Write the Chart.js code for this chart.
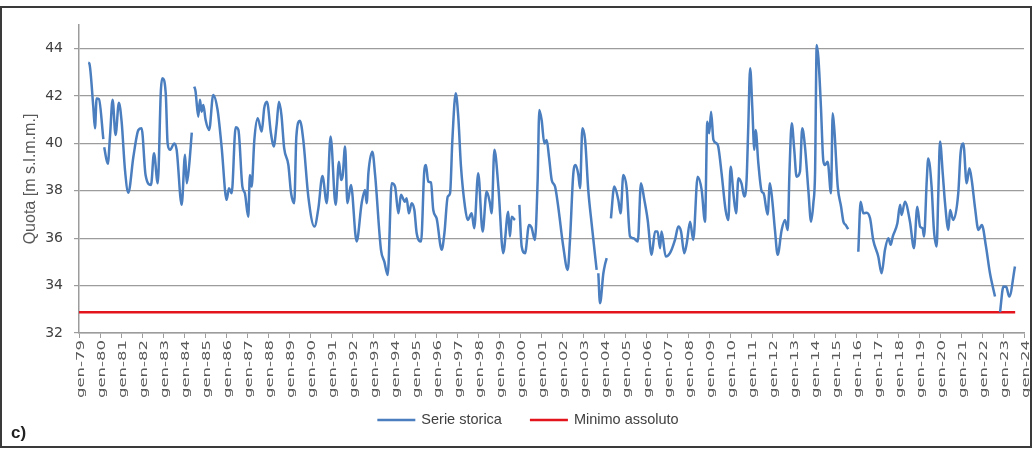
<!DOCTYPE html>
<html>
<head>
<meta charset="utf-8">
<title>Quota - serie storica</title>
<script src="https://cdn.jsdelivr.net/npm/chart.js@4.4.1/dist/chart.umd.min.js"></script>
<style>
  html, body { margin: 0; padding: 0; background: #fff; overflow: hidden; }
  #wrap { position: relative; width: 1035px; height: 449px; }
  #wrap canvas { position: absolute; left: 0; top: 0; }
  #frame { position: absolute; left: 0; top: 6px; width: 1028px; height: 438px; border: 2px solid #3a3a3a; pointer-events: none; }
</style>
</head>
<body>
<div id="wrap">
  <canvas id="quota" width="1035" height="449"></canvas>
  <div id="frame"></div>
</div>
<script>
// Serie storica della quota (m s.l.m.m.), tempo in anni decimali; null = dato mancante
const obsTime = [
  1979.44, 1979.49, 1979.68, 1979.76, 1979.84, 1979.95, 1980.16, 1980.18,
  1980.20, 1980.37, 1980.48, 1980.60, 1980.74, 1980.90, 1981.03, 1981.19,
  1981.35, 1981.59, 1981.83, 1981.98, 1982.17, 1982.43, 1982.57, 1982.75,
  1982.90, 1982.97, 1983.13, 1983.22, 1983.33, 1983.54, 1983.65, 1983.89,
  1984.05, 1984.13, 1984.24, 1984.37, 1984.43, 1984.49, 1984.55, 1984.68,
  1984.76, 1984.84, 1984.92, 1985.03, 1985.20, 1985.39, 1985.60, 1985.79,
  1986.03, 1986.14, 1986.27, 1986.46, 1986.59, 1986.78, 1986.90, 1987.06,
  1987.14, 1987.22, 1987.35, 1987.51, 1987.70, 1987.82, 1987.95, 1988.14,
  1988.27, 1988.41, 1988.52, 1988.64, 1988.77, 1988.97, 1989.10, 1989.25,
  1989.35, 1989.52, 1989.68, 1989.92, 1990.21, 1990.40, 1990.59, 1990.80,
  1990.98, 1991.22, 1991.38, 1991.48, 1991.56, 1991.67, 1991.78, 1991.95,
  1992.22, 1992.46, 1992.62, 1992.70, 1992.78, 1992.97, 1993.10, 1993.38,
  1993.54, 1993.70, 1993.89, 1994.05, 1994.21, 1994.33, 1994.52, 1994.60,
  1994.71, 1994.84, 1994.97, 1995.08, 1995.29, 1995.44, 1995.52, 1995.63,
  1995.76, 1995.87, 1996.03, 1996.27, 1996.40, 1996.56, 1996.67, 1996.78,
  1996.94, 1997.06, 1997.19, 1997.38, 1997.51, 1997.70, 1997.82, 1998.01,
  1998.22, 1998.41, 1998.57, 1998.65, 1998.78, 1998.97, 1999.20, 1999.44,
  1999.52, 1999.60, 1999.76, 1999.86, 1999.97, 2000.08, 2000.24, 2000.43,
  2000.55, 2000.71, 2000.84, 2000.92, 2001.03, 2001.16, 2001.27, 2001.38,
  2001.51, 2001.67, 2001.82, 2002.06, 2002.27, 2002.38, 2002.54, 2002.65,
  2002.78, 2002.86, 2002.97, 2003.10, 2003.25, 2003.41, 2003.65, 2003.69,
  2003.73, 2003.81, 2003.97, 2004.05, 2004.13, 2004.23, 2004.33, 2004.49,
  2004.68, 2004.79, 2004.92, 2005.08, 2005.24, 2005.40, 2005.61, 2005.76,
  2005.92, 2006.08, 2006.27, 2006.43, 2006.55, 2006.67, 2006.74, 2006.94,
  2007.14, 2007.38, 2007.54, 2007.67, 2007.82, 2007.94, 2008.10, 2008.25,
  2008.46, 2008.65, 2008.81, 2008.92, 2009.01, 2009.10, 2009.21, 2009.37,
  2009.44, 2009.60, 2009.79, 2009.92, 2010.03, 2010.16, 2010.29, 2010.40,
  2010.55, 2010.68, 2010.79, 2010.87, 2010.96, 2011.06, 2011.16, 2011.22,
  2011.35, 2011.51, 2011.60, 2011.79, 2011.90, 2012.01, 2012.14, 2012.27,
  2012.46, 2012.62, 2012.75, 2012.83, 2012.94, 2013.06, 2013.17, 2013.33,
  2013.44, 2013.57, 2013.73, 2013.86, 2013.97, 2014.05, 2014.13, 2014.21,
  2014.33, 2014.44, 2014.52, 2014.65, 2014.81, 2014.89, 2014.97, 2015.13,
  2015.29, 2015.40, 2015.51, 2015.63, 2015.85, 2016.11, 2016.22, 2016.35,
  2016.51, 2016.67, 2016.82, 2017.06, 2017.22, 2017.38, 2017.54, 2017.65,
  2017.75, 2017.97, 2018.10, 2018.17, 2018.33, 2018.57, 2018.76, 2018.92,
  2019.05, 2019.17, 2019.24, 2019.37, 2019.44, 2019.60, 2019.71, 2019.84,
  2019.92, 2020.00, 2020.13, 2020.24, 2020.40, 2020.48, 2020.63, 2020.87,
  2020.98, 2021.11, 2021.27, 2021.40, 2021.51, 2021.67, 2021.83, 2021.99,
  2022.19, 2022.38, 2022.62, 2022.74, 2022.86, 2023.02, 2023.15, 2023.30,
  2023.57
];
const obsLevel = [
  43.41, 43.38, 41.55, 40.64, 41.90, 41.87, 40.18, null,
  39.84, 39.14, 40.36, 41.84, 40.36, 41.72, 40.92, 38.88,
  37.92, 39.44, 40.57, 40.64, 38.67, 38.25, 39.59, 38.32,
  42.26, 42.75, 42.12, 40.00, 39.73, 40.00, 39.73, 37.41,
  39.52, 38.32, 39.02, 40.46, null, 42.40, 42.20, 41.13,
  41.84, 41.34, 41.62, 40.99, 40.57, 42.05, 41.41, 39.87,
  37.62, 38.11, 37.90, 40.68, 40.57, 38.18, 37.90, 36.91,
  38.67, 38.18, 40.15, 41.06, 40.50, 41.49, 41.76, 40.43,
  39.87, 40.78, 41.76, 41.20, 39.80, 39.09, 37.90, 37.48,
  40.29, 40.96, 40.15, 37.76, 36.49, 37.27, 38.63, 37.48,
  40.29, 37.41, 39.23, 38.46, 38.67, 39.87, 37.48, 38.25,
  35.86, 37.48, 38.04, 37.48, 38.74, 39.65, 38.67, 35.51,
  35.01, 34.45, 38.32, 38.18, 37.05, 37.83, 37.54, 37.69,
  37.05, 37.48, 37.19, 36.21, 35.86, 38.81, 39.09, 38.39,
  38.35, 37.19, 36.84, 35.51, 36.21, 37.76, 37.90, 40.15,
  42.12, 41.13, 39.02, 37.33, 36.77, 37.05, 36.42, 38.74,
  36.28, 37.97, 37.48, 37.05, 39.73, 38.18, 35.37, 37.12,
  36.07, 36.91, 36.77, null, 37.41, 35.65, 35.37, 36.56,
  36.45, 35.93, 38.46, 41.41, 40.99, 40.00, 40.15, 39.44,
  38.46, 38.18, 37.33, 35.65, 34.66, 35.93, 38.74, 39.09,
  38.67, 38.11, 40.64, 40.15, 38.04, 36.63, 34.66, null,
  34.52, 33.26, 34.52, 34.90, 35.16, null, 36.84, 38.18,
  37.62, 37.05, 38.67, 38.11, 36.07, 36.00, 35.86, 38.32,
  37.62, 36.77, 35.30, 36.28, 36.28, 35.58, 36.28, 35.23,
  35.37, 35.93, 36.49, 36.28, 35.37, 35.79, 36.70, 35.93,
  38.60, 38.04, 36.70, 40.92, 40.43, 41.34, 40.15, 40.00,
  39.87, 38.74, 37.19, 36.77, 39.02, 37.90, 37.05, 38.53,
  38.30, 37.76, 38.46, 40.71, 43.17, 41.55, 39.73, 40.57,
  39.16, 37.97, 37.90, 37.00, 38.32, 37.62, 36.35, 35.30,
  36.35, 36.77, 36.35, 38.74, 40.85, 39.73, 38.60, 38.81,
  40.64, 39.87, 38.04, 36.70, 37.48, 38.74, 44.16, 43.60,
  41.55, 39.30, 39.09, 39.23, 37.90, 41.27, 40.57, 38.18,
  37.33, 36.70, 36.56, 36.38, null, 35.43, 37.54, 37.05,
  37.08, 36.84, 35.93, 35.23, 34.52, 35.51, 36.00, 35.72,
  36.07, 36.63, 37.41, 36.98, 37.54, 36.70, 35.58, 37.33,
  36.49, 36.42, 36.07, 38.46, 39.37, 38.18, 36.35, 35.65,
  37.90, 40.08, 38.74, 37.48, 36.35, 37.19, 36.77, 37.90,
  39.59, 40.00, 38.32, 38.95, 38.46, 37.27, 36.35, 36.56,
  35.65, 34.52, 33.54, null, 32.88, 33.96, 33.95, 33.54,
  34.81
];

// minimo assoluto, tracciato su tutto il periodo osservato
const minLevel = 32.88;
const minTime = [1979, 2023.58];

// etichette annuali dell'asse x (gennaio di ogni anno)
const yearTicks = [];
for (let y = 1979; y <= 2024; y++) yearTicks.push('gen-' + String(y).slice(2));

const seriesPoints = obsTime.map((t, i) => ({x: t, y: obsLevel[i]}));
const minPoints = minTime.map(t => ({x: t, y: minLevel}));

const axisGray = '#9c9c9c';

// etichette dell'asse x, verticali e allungate
const yearLabels = {
  id: 'yearLabels',
  afterDraw(chart) {
    const xs = chart.scales.x;
    const ctx = chart.ctx;
    ctx.save();
    ctx.fillStyle = '#595959';
    ctx.font = '11px "DejaVu Sans"';
    ctx.textAlign = 'right';
    ctx.textBaseline = 'middle';
    xs.ticks.forEach(tick => {
      const label = yearTicks[Math.round(tick.value) - 1979];
      if (!label) return;
      ctx.save();
      ctx.translate(xs.getPixelForValue(tick.value) + 2, xs.top + 7);
      ctx.rotate(-Math.PI / 2);
      ctx.scale(1.5, 1);
      ctx.fillText(label, 0, 0);
      ctx.restore();
    });
    ctx.restore();
  }
};

// legenda con campione di linea
const lineLegend = {
  id: 'lineLegend',
  afterDraw(chart, args, opts) {
    const ctx = chart.ctx;
    ctx.save();
    ctx.font = opts.font;
    ctx.textBaseline = 'middle';
    const items = chart.data.datasets.map(ds => ({ds, w: ctx.measureText(ds.label).width}));
    const total = items.reduce((s, it) => s + opts.sample + opts.gap + it.w, 0) + opts.spacing * (items.length - 1);
    let x = opts.centerX - total / 2;
    items.forEach(({ds, w}) => {
      ctx.strokeStyle = ds.borderColor;
      ctx.lineWidth = ds.borderWidth;
      ctx.beginPath();
      ctx.moveTo(x, opts.y);
      ctx.lineTo(x + opts.sample, opts.y);
      ctx.stroke();
      ctx.fillStyle = opts.color;
      ctx.fillText(ds.label, x + opts.sample + opts.gap, opts.y);
      x += opts.sample + opts.gap + w + opts.spacing;
    });
    ctx.restore();
  }
};

// sigla del pannello
const panelTag = {
  id: 'panelTag',
  afterDraw(chart, args, opts) {
    const ctx = chart.ctx;
    ctx.save();
    ctx.font = opts.font;
    ctx.fillStyle = opts.color;
    ctx.textBaseline = 'middle';
    ctx.fillText(opts.text, opts.x, opts.y);
    ctx.restore();
  }
};

new Chart(document.getElementById('quota'), {
  type: 'line',
  data: {
    datasets: [
      {
        label: 'Serie storica',
        data: seriesPoints,
        borderColor: '#4a7ebf',
        borderWidth: 2.5,
        pointRadius: 0,
        cubicInterpolationMode: 'monotone',
        spanGaps: false,
        fill: false
      },
      {
        label: 'Minimo assoluto',
        data: minPoints,
        borderColor: '#e3141c',
        borderWidth: 2.5,
        pointRadius: 0,
        fill: false
      }
    ]
  },
  options: {
    responsive: false,
    animation: false,
    devicePixelRatio: 1,
    layout: { padding: { top: 25, right: 11, bottom: 0, left: 0 } },
    plugins: {
      legend: { display: false },
      tooltip: { enabled: false },
      lineLegend: {
        font: '14.5px "Liberation Sans"',
        color: '#404040',
        sample: 38, gap: 6, spacing: 28,
        centerX: 528, y: 420
      },
      panelTag: { text: 'c)', font: 'bold 17px "Liberation Sans"', color: '#222', x: 11, y: 433 }
    },
    scales: {
      x: {
        type: 'linear',
        min: 1979,
        max: 2024,
        afterFit: s => { s.height = 116; },
        ticks: { stepSize: 1, maxTicksLimit: 100, autoSkip: false, display: false },
        grid: { drawOnChartArea: false, drawTicks: true, tickLength: 5, color: axisGray, lineWidth: 1 },
        border: { color: axisGray, width: 1.5 }
      },
      y: {
        min: 32,
        max: 45,
        afterFit: s => { s.width = 79; },
        ticks: {
          stepSize: 2,
          includeBounds: false,
          padding: 11,
          color: '#404040',
          font: { family: 'DejaVu Sans', size: 14 }
        },
        grid: { color: axisGray, lineWidth: 1.2, tickLength: 5 },
        border: { color: axisGray, width: 1.5 },
        title: {
          display: true,
          text: 'Quota [m s.l.m.m.]',
          color: '#595959',
          font: { family: 'Liberation Sans', size: 16 },
          padding: { top: 21, bottom: 0 }
        }
      }
    }
  },
  plugins: [yearLabels, lineLegend, panelTag]
});
</script>
</body>
</html>
